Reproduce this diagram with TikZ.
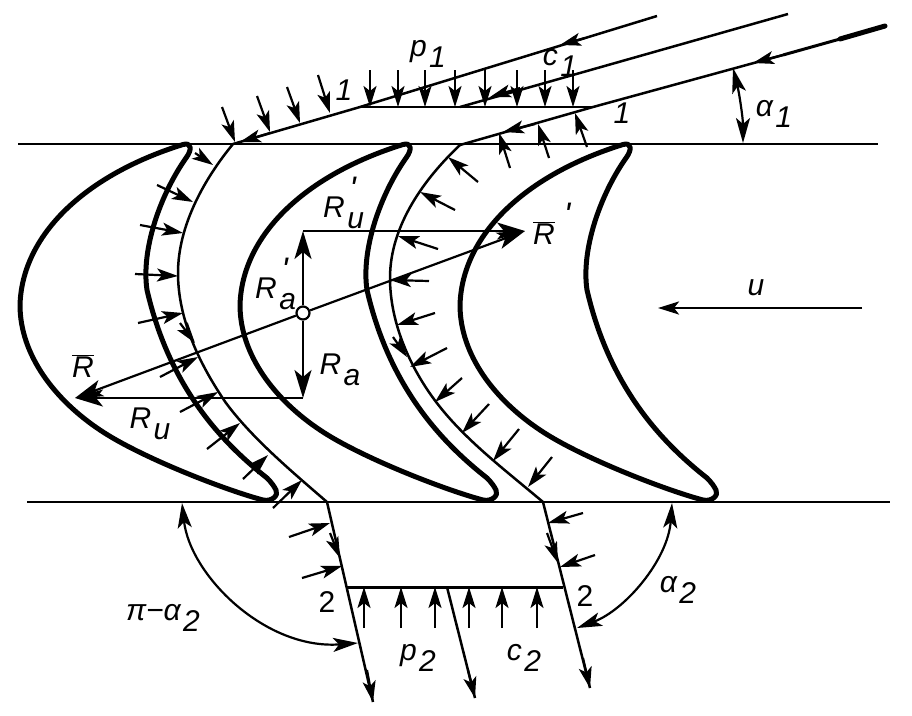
\documentclass[tikz,border=0pt]{standalone}
\usepackage{fontspec}
\setmainfont{Liberation Sans}
\usetikzlibrary{arrows.meta}
\tikzset{
  wall/.style={line width=2.5pt, line join=round},
  bladeline/.style={line width=5pt, line join=round},
  tip/.style={-{Stealth[length=21pt,width=13pt,inset=5pt]}},
  ray/.style={line width=2.2pt, tip},
  force/.style={line width=2.2pt, -{Stealth[length=28pt,width=17pt,inset=7pt]}},
  angle/.style={line width=2.2pt, {Stealth[length=25pt,width=14pt,inset=6pt]}-{Stealth[length=25pt,width=14pt,inset=6pt]}},
  lab/.style={inner sep=0pt, font=\fontsize{30}{32}\selectfont\itshape}
}
\newcommand{\sbs}[1]{\raisebox{-0.7ex}{\kern.08em#1}}
\newcommand{\pr}{\raisebox{1.1ex}{\fontsize{34}{34}\selectfont\textquotesingle}}
\newcommand{\blade}[1]{
  \draw[bladeline, xshift=#1pt]
    (183,144.5) .. controls (85,175) and (22,235) .. (20,305)
    .. controls (20,355) and (55,400) .. (100,430)
    .. controls (140,457) and (225,490) .. (263,500)
    .. controls (272,502) and (279,495) .. (276,490)
    .. controls (274,486) and (271,482) .. (267,478)
    .. controls (225,445) and (170,390) .. (147,290)
    .. controls (141,250) and (160,195) .. (186,158)
    .. controls (192,150) and (192,142) .. (183,144.5) -- cycle;
}
\begin{document}
\begin{tikzpicture}[x=1pt, y=-1pt]
  \useasboundingbox (0,0) rectangle (912,715);

  % cascade limits
  \draw[wall] (18,144) -- (878,144);
  \draw[wall] (27,502) -- (890,502);

  % blades
  \foreach \dx in {0,220,440} {\blade{\dx}}

  % stream walls
  \draw[wall] (657,16) -- (360,107) -- (233,144)
    .. controls (205,178) and (178,225) .. (178,273)
    .. controls (178,320) and (200,365) .. (226,403)
    .. controls (252,438) and (290,470) .. (327,502)
    -- (373,702);
  \draw[wall] (788,14) -- (460,107);
  \draw[wall] (783,55) -- (593,107) -- (460,145)
    .. controls (425,178) and (390,225) .. (390,278)
    .. controls (390,325) and (412,372) .. (440,407)
    .. controls (468,442) and (505,470) .. (543,502)
    -- (590,688);
  \draw[wall] (360,107) -- (593,107);
  \draw[line width=3pt] (347,587) -- (563,587);
  \draw[wall] (447,587) -- (475,698);
  \draw[line width=3pt] (783,55) -- (840,39);
  \draw[line width=5pt, line cap=round] (840,39) -- (885,26);

  % pressure arrows
  \foreach \x in {370,398,425,455,485,517,545,573}
    \draw[ray] (\x,70) -- (\x,107);
  \foreach \x in {364,401,435,469,502,537}
    \draw[ray] (\x,628) -- (\x,587);
  \foreach \xa/\ya/\xb/\yb in {
      318/75/330/113, 287/87/300/123, 257/96/270/132, 222/107/235/142,
      587/147/575/113, 549/158/538/124, 510/168/499/133, 478/182/448/157, 455/210/420/192,
      438/249/398/236, 429/281/390/280, 435/313/397/325, 447/348/410/367, 462/378/435/402,
      489/404/462/433, 519/429/493/461, 552/457/528/487,
      583/513/548/523, 595/555/560/567, 289/537/330/523, 302/578/342/566,
      195/153/213/165, 157/185/193/202, 140/225/183/233, 135/274/178/276, 138/323/183/313,
      160/377/198/357, 180/412/218/392, 207/449/240/423, 243/479/268/455, 273/508/302/480}
    \draw[ray] (\xa,\ya) -- (\xb,\yb);

  % flow arrows
  \foreach \xa/\ya/\xb/\yb in {
      585/38/560/45, 520/88/490/97, 535/124/503/132, 270/133/240/142,
      180/323/195/343, 393/337/407/357, 330/533/340/558, 547/533/558/563,
      367/670/373/702, 468/670/475/698, 583/658/590/688, 783/55/753/63}
    \draw[ray] (\xa,\ya) -- (\xb,\yb);
  \draw[ray, line width=2.6pt] (862,308) -- (658,308);

  % forces
  \node[circle, draw, line width=2.2pt, fill=white, minimum size=13pt, inner sep=0pt] (o) at (303,313) {};
  \coordinate (Rbar) at (75,398);
  \coordinate (Rpbar) at (525,231);
  \coordinate (Rdown) at (303,398);
  \coordinate (Rup) at (303,231);
  \draw[force] (o) -- (Rbar);
  \draw[force] (o) -- (Rpbar);
  \draw[force] (o) -- (Rdown);
  \draw[force] (o) -- (Rup);
  \draw[force] (Rdown) -- (Rbar);
  \draw[force] (Rup) -- (Rpbar);

  % angles
  \draw[angle] (733,68) .. controls (739,92) and (743,118) .. (743,143);
  \draw[angle] (182,503) .. controls (190,575) and (265,650) .. (358,643);
  \draw[angle] (672,503) .. controls (668,560) and (625,610) .. (577,628);

  % labels
  \node[lab] (p1) at (428,54) {p\sbs{1}};
  \node[lab] (c1) at (560,63) {c\sbs{1}};
  \node[lab] (one1) at (344,90) {1};
  \node[lab] (one2) at (622,113) {1};
  \node[lab] (a1) at (774,114) {α\sbs{1}};
  \node[lab] (a2) at (678,590) {α\sbs{2}};
  \node[lab] (pa2) at (163,618) {π−α\sbs{2}};
  \node[lab] (p2) at (418,658) {p\sbs{2}};
  \node[lab] (c2) at (524,658) {c\sbs{2}};
  \node[lab, font=\fontsize{30}{32}\selectfont] (two1) at (327,602) {2};
  \node[lab, font=\fontsize{30}{32}\selectfont] (two2) at (585,596) {2};
  \node[lab] (u) at (756,288) {u};
  \node[lab] (Rb) at (83,366) {$\overline{\mbox{R}}$};
  \node[lab, anchor=west] (Rbp) at (533,224) {$\overline{\mbox{R}}$\kern.3em\pr};
  \node[lab] (Ru) at (150,424) {R\sbs{u}};
  \node[lab, anchor=west] (Rpu) at (323,203) {R\rlap{\sbs{u}}\kern.15em\pr};
  \node[lab] (Ra) at (340,370) {R\sbs{a}};
  \node[lab, anchor=west] (Rpa) at (255,284) {R\rlap{\sbs{a}}\kern.15em\pr};
\end{tikzpicture}
\end{document}
